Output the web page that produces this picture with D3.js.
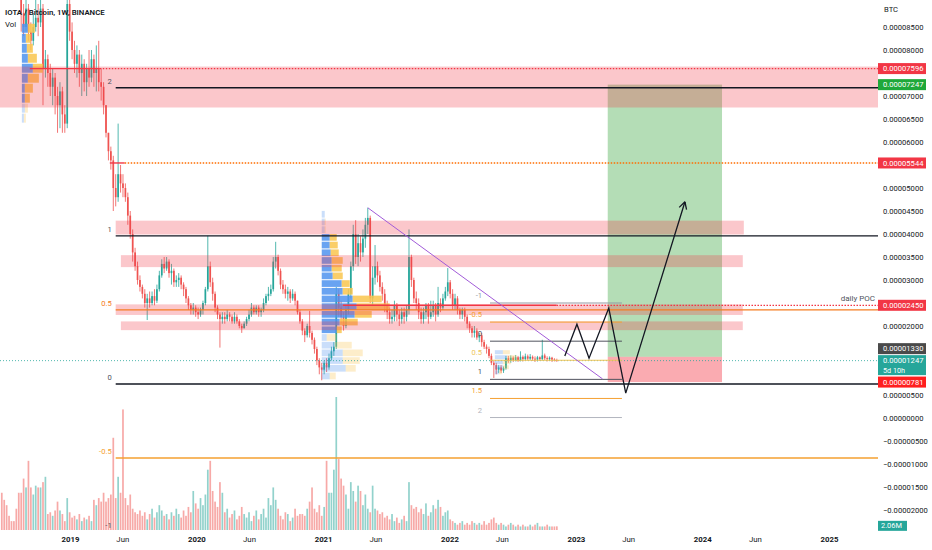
<!DOCTYPE html>
<html>
<head>
<meta charset="utf-8">
<script src="https://cdn.jsdelivr.net/npm/d3@7"></script>
<style>
    html, body { margin: 0; padding: 0; background: #fff; }
    svg { display: block; font-family: Roboto, "Liberation Sans", sans-serif; }
</style>
</head>
<body>
<svg id="chart" width="932" height="550"></svg>
<script>
(function () {
    'use strict';

    // weekly candles from 2018-06-18, prices in 1e-6 BTC
    // each row: [close, high, low, volume (M)]
    var firstOpen = 158;
    var weeks2018 = [
        [150,165,140,21],[140,152,136,17],[130,142,126,14],[118,131,115,8],
        [112,120,108,5],[105,114,101,5],[98,107,95,12],[93,100,91.5,21],
        [88,91,84,21],[85,90,83,29],[89,93,84,24],[84,90,82,39],[82,86,80,24],
        [85,88,81,20],[87,92,84,25],[86,90,83,24],[89,93,85,24],[76,90,68,27],
        [78,80,74,30],[75,79,72,9],[72,77,70,10],[74,76,68,8],[70,75,66,11],
        [68,72,62,16],[71,73,63,11],[66,72,62,9],[64,68,62,5],[90,93,63,18]
    ];
    var weeks2019 = [
        [84,92,82,10],[80,86,78,7],[77,82,75,8],[79,81,74,6],[75,80,72,9],
        [77,79,70,5],[73,78,71,7],[76,77,70,6],[74,80,72,8],[78,80,73,5],
        [75,79,72,17],[76,81,71,14],[73,82,71,18],[72,76,69,16],[68,73,66,21],
        [62,68,61,16],[58,62,56,18],[56,59,54,20],[50,57,45,52],[48,53,46,18],
        [53,64,47,30],[51,55,49,21],[50,53,48,68],[48,51,47,18],[44,49,42,14],
        [40,45,39,20],[36,41,34,12],[33,37,32,10],[30,34,29,9],[28.5,31,27.5,11],
        [27,29,26,8],[25,28,24,10],[26,27,21.3,6],[25,27.5,24,9],[26.5,27.5,24.5,12],
        [25.5,28,24.5,7],[28,29,25,10],[31,32,27.5,14],[33.5,34.5,30.5,11],[32.5,35,31.5,8],
        [34,35,32,9],[31.5,34.5,30.5,6],[32,33.5,29,10],[29.5,32.5,28.5,8],[30,31,28.5,12],
        [30.5,31.5,28.5,9],[29,31,28,7],[28,29.5,26.5,11],[26,28.5,25,8],[24.5,26.5,23.5,13],
        [23.5,25,22.5,10],[24,25,22.5,22]
    ];
    var weeks2020 = [
        [23,24.5,22,15],[22.5,24,21.5,12],[23.5,24,22,18],[25,25.5,22.5,14],[28,28.5,24.5,20],
        [33,39.6,27.5,34],[29.5,34,28.5,39],[27,30.5,25.5,22],[24,27.5,23,16],[22.5,24.5,21.5,13],
        [21.5,23,15.3,27],[22,23,20.5,21],[21.5,23,20.5,10],[22.5,23.5,21,12],[22,23,21,7],
        [21,22.5,20.5,9],[22,23,20.5,11],[21,22.5,20.5,6],[20,21.5,19.5,8],[19.5,20.5,18.5,13],
        [20.5,21,19.5,9],[21.5,22,20,7],[22.5,23.5,21,10],[24,25,22,5],[23,24.5,22.5,8],
        [24,24.5,22.5,11],[23,24.5,22,6],[23.5,24,22,9],[25,26,23,12],[26.5,27,24.5,7],
        [27,28.5,25.5,18],[28,29,26.5,14],[34,35,27.5,24],[35,38.3,32.5,17],[32,35.5,31,12],
        [29,32.5,28,8],[28,30,27,6],[27,29,26,10],[27.5,28.5,25.5,9],[26,28,25,5],
        [27,28,25.5,7],[25.5,27.5,24.5,12],[23,25.5,22.5,8],[21,23.5,20.5,9],[19,21.5,18,9],
        [18,19.5,16.5,8],[20,20.5,17.5,12],[18.5,23.3,17.5,16],[17,19,16,24],[15,17.5,14,12],
        [12.5,15.5,11.5,10],[11,13,9.5,14]
    ];
    var weeks2021 = [
        [10.5,12,8.2,8],[12,12.5,9.5,13],[11,13,10,39],[13,14,10.5,21],[14.5,15.5,12.5,21],
        [15.5,16.5,13.5,34],[27,28.5,15,75],[24,28,22,40],[22,25.5,20.5,29],[20,23,19,25],
        [23.5,24.5,19.5,20],[27,28,22.5,12],[33,34,26,27],[40,42,32,22],[35,43,33.5,16],
        [38,40,33,25],[36,39.5,34,22],[39,41,35,14],[42,43.5,37,20],[43.5,45.7,40,12],
        [26,44,25,10],[30.5,33,24.5,25],[33,37.6,29,12],[31,34,29.5,11],[28.5,32,27.5,9],
        [27,29.5,25.5,10],[24.5,28,23,7],[23,25.5,21.5,8],[21.5,24,20.5,6],[22,23.5,20.5,9],
        [24.5,25.5,21,5],[22.5,25,21,7],[21.5,23.5,20,4],[23,24,20.5,6],[22,24,20.5,8],
        [23.5,24.5,21,5],[35,41,22.5,27],[30,35.5,28.5,14],[26,30.5,25,12],[25,27.5,23.5,13],
        [23,26,21.5,10],[21.5,24,20.5,12],[23,24,20.5,9],[24.5,25,21.5,15],[22,25,20.5,8],
        [23,25.5,21.5,10],[24.5,25.5,22,14],[22.5,25,21,12],[25,28.5,22,17],[24,26,23,13],
        [26,27,23.5,8],[27.5,28.5,25.5,10]
    ];
    var weeks2022 = [
        [29.5,32.6,26.5,11],[27,30,26,6],[24.5,28,23.5,5],[26,27,23.5,4],[23.5,26.5,22.5,3],
        [22.5,24,21.5,4],[23.5,24,21.5,5],[22,24,21,3],[20.5,22.5,19.5,4],[19.5,21,18.5,3],
        [18.5,20,17.5,5],[19,20,17.5,4],[17.5,19.5,17,3],[18,18.5,16.5,4],[16.5,18.5,15.5,3],
        [15.5,17,15,5],[15,16,14,3],[13.5,15.5,13,4],[12,14,11.5,6],[11.5,12.5,8.7,7],
        [10.5,12,9.5,4],[11,11.5,9.8,3],[10.3,11.5,9.8,4],[10.8,11.2,9.8,3],[13,13.5,10.5,2],
        [12.4,13.5,12,3],[13.1,13.6,12,4],[12.6,13.4,12.2,3],[13.2,13.7,12.3,2],[12.5,13.5,12.2,3],
        [13.3,14.5,12.3,2],[12.8,13.6,12.3,3],[13.4,14,12.6,2],[12.9,13.8,12.5,2],[13.3,13.9,12.6,3],
        [12.9,13.6,12.4,2],[12.7,13.4,12.2,3],[13.2,13.5,12.3,4],[12.8,13.4,12.4,2],[13.6,17,12.5,2],
        [13,14,12.6,2],[12.8,13.4,12.3,3],[13.1,13.4,12.4,2],[12.7,13.3,12.2,2],[12.6,13,12.3,2],
        [12.47,12.9,12.2,2.06]
    ];

    var priceTicks = [85,80,75,70,65,60,55,50,45,40,35,30,25,20,15,10,5,0,-5,-10,-15,-20];
    var timeTickDates = ['2019-01-01','2019-06-01','2020-01-01','2020-06-01','2021-01-01','2021-06-01',
        '2022-01-01','2022-06-01','2023-01-01','2023-06-01','2024-01-01','2024-06-01','2025-01-01'];
    var timeTickLabels = ['2019','Jun','2020','Jun','2021','Jun','2022','Jun','2023','Jun','2024','Jun','2025'];

    // volume profiles: rows from low price upwards
    var vp2018Ups   = [2,3,3,3,6,11,6,5,4,6];
    var vp2018Downs = [2,3,5,8,11,10,9,6,5,7];
    var vp2021Ups   = [8,24,21,21,13,5,15,18,33,35,31,21,20,11,10,10,9,8,8,3,3,3];
    var vp2021Downs = [6,10,17,20,17,10,5,18,17,33,29,10,8,10,10,11,8,8,7,1,1,0];
    var vp2022Ups   = [4,8,8,12,8];
    var vp2022Downs = [3,6,8,10,7];

    // drawings
    var zoneRows = [   // [from, to, top price, bottom price]
        [null, null, 76.4, 67.5],
        ['2019-05-13', '2024-04-30', 42.9, 39.9],
        ['2019-05-28', '2024-04-27', 35.4, 32.8],
        ['2019-05-13', '2024-04-27', 24.7, 22.4],
        ['2019-05-28', '2024-04-27', 21.0, 19.1]
    ];
    var bigFibLevels = [2, 1, 0.5, 0, -0.5, -1];
    var bigFibColors = ['#131722', '#131722', '#f57c20', '#131722', '#f5a030', '#131722'];
    var bigFibPrices = [7.4, 39.6];          // level 0, level 1
    var smallFibLevels = [-1, -0.5, 0, 0.5, 1, 1.5, 2];
    var smallFibColors = ['#9598a1', '#f5a030', '#50535e', '#eec55a', '#50535e', '#f5a030', '#b2b5be'];
    var smallFibPrices = [16.7, 8.4];
    var trendPoints = [['2021-05-10', 45.7], ['2023-03-19', 8.5]];
    var pathPoints = [['2022-11-30', 13.5], ['2023-01-04', 20.4], ['2023-02-08', 13.0],
        ['2023-04-06', 23.9], ['2023-05-25', 5.4], ['2023-11-12', 47.0]];
    var longDates = ['2023-04-03', '2024-02-27'];
    var longPrices = [72.47, 13.30, 7.81];   // target, entry, stop
    var currentPrice = 12.47;

    var W = 932, plotR = 878, plotB = 531;
    var upColor = '#26a69a', downColor = '#ef5350';

    function day(s) { return new Date(s + 'T00:00:00Z'); }

    var svg = d3.select('#chart');

    var x = d3.scaleUtc()
        .domain([day('2019-01-01'), day('2025-01-01')])
        .range([70, 829]);
    var y = d3.scaleLinear().domain([0, 85]).range([418, 27]);
    var yVol = d3.scaleLinear().domain([0, 75]).range([530, 397]);

    var leftDate = x.invert(0), rightDate = x.invert(plotR);

    // candles
    var rows = weeks2018.concat(weeks2019, weeks2020, weeks2021, weeks2022);
    var start = day('2018-06-18');
    var prevClose = firstOpen;
    var candles = rows.map(function (r, i) {
        var c = {
            date: d3.utcDay.offset(start, i * 7),
            open: prevClose, close: r[0], high: r[1], low: r[2], vol: r[3]
        };
        c.up = c.close >= c.open;
        prevClose = r[0];
        return c;
    });

    svg.append('rect').attr('width', W).attr('height', 550).attr('fill', '#fff');

    svg.append('clipPath').attr('id', 'plot-clip')
        .append('rect').attr('x', 0).attr('y', 0).attr('width', plotR).attr('height', plotB);

    var plot = svg.append('g').attr('clip-path', 'url(#plot-clip)');

    // long position box
    var lx0 = x(day(longDates[0])), lx1 = x(day(longDates[1]));
    plot.append('rect')
        .attr('x', lx0).attr('width', lx1 - lx0)
        .attr('y', y(longPrices[0])).attr('height', y(longPrices[1]) - y(longPrices[0]))
        .attr('fill', 'rgba(76,175,80,0.42)');
    plot.append('rect')
        .attr('x', lx0).attr('width', lx1 - lx0)
        .attr('y', y(longPrices[1])).attr('height', y(longPrices[2]) - y(longPrices[1]))
        .attr('fill', 'rgba(242,54,69,0.42)');

    // volume bars
    var bw = 1.7;
    plot.append('g').selectAll('rect')
        .data(candles)
        .join('rect')
        .attr('x', function (d) { return x(d.date) - bw / 2; })
        .attr('width', bw)
        .attr('y', function (d) { return yVol(d.vol); })
        .attr('height', function (d) { return yVol(0) - yVol(d.vol); })
        .attr('fill', function (d) { return d.up ? 'rgba(38,166,154,0.5)' : 'rgba(239,83,80,0.5)'; });

    // candles
    var gC = plot.append('g');
    gC.selectAll('line')
        .data(candles)
        .join('line')
        .attr('x1', function (d) { return x(d.date); })
        .attr('x2', function (d) { return x(d.date); })
        .attr('y1', function (d) { return y(d.high); })
        .attr('y2', function (d) { return y(d.low); })
        .attr('stroke', function (d) { return d.up ? upColor : downColor; })
        .attr('stroke-width', 0.8);
    gC.selectAll('rect')
        .data(candles)
        .join('rect')
        .attr('x', function (d) { return x(d.date) - bw / 2; })
        .attr('width', bw)
        .attr('y', function (d) { return y(Math.max(d.open, d.close)); })
        .attr('height', function (d) { return Math.max(0.8, Math.abs(y(d.open) - y(d.close))); })
        .attr('fill', function (d) { return d.up ? upColor : downColor; });

    // volume profiles
    function drawProfile(anchor, low, step, ups, downs, vaFrom, vaTo, maxPx, fadeAll) {
        var w = d3.scaleLinear()
            .domain([0, d3.max(ups, function (u, i) { return u + downs[i]; })])
            .range([0, maxPx]);
        var x0 = x(day(anchor));
        var g = plot.append('g');
        ups.forEach(function (u, k) {
            var top = y(low + (k + 1) * step), h = y(low + k * step) - top - 1;
            var inVa = !fadeAll && k >= vaFrom && k <= vaTo;
            var op = inVa ? 0.85 : 0.3;
            g.append('rect').attr('x', x0).attr('y', top + 0.5).attr('width', w(u)).attr('height', h)
                .attr('fill', '#4f93ee').attr('opacity', op);
            g.append('rect').attr('x', x0 + w(u)).attr('y', top + 0.5).attr('width', w(downs[k])).attr('height', h)
                .attr('fill', '#f9c54e').attr('opacity', op);
        });
    }
    drawProfile('2018-08-15', 64.1, 2.17, vp2018Ups, vp2018Downs, 2, 9, 21, false);
    drawProfile('2020-12-28', 8.3, 1.674, vp2021Ups, vp2021Downs, 6, 18, 68, false);
    drawProfile('2022-05-12', 9.4, 1.09, vp2022Ups, vp2022Downs, 0, 0, 22, true);

    // zones
    plot.append('g').selectAll('rect')
        .data(zoneRows)
        .join('rect')
        .attr('x', function (d) { return x(d[0] ? day(d[0]) : leftDate); })
        .attr('width', function (d) { return x(d[1] ? day(d[1]) : rightDate) - x(d[0] ? day(d[0]) : leftDate); })
        .attr('y', function (d) { return y(d[2]); })
        .attr('height', function (d) { return y(d[3]) - y(d[2]); })
        .attr('fill', 'rgba(242,54,69,0.28)');

    // horizontal level lines
    function hline(from, to, price, color, dash, width) {
        plot.append('line')
            .attr('x1', x(from)).attr('x2', x(to))
            .attr('y1', y(price)).attr('y2', y(price))
            .attr('stroke', color).attr('stroke-width', width || 1.2)
            .attr('stroke-dasharray', dash || null);
    }
    hline(day('2018-09-07'), day('2019-03-28'), 75.96, '#f23645', null, 1.4);
    hline(day('2019-03-28'), rightDate, 75.96, '#f23645', '1.5,1.5');
    hline(day('2019-04-26'), day('2019-06-08'), 55.44, '#f23645', null, 1.4);
    hline(day('2019-06-08'), rightDate, 55.44, '#ff6d00', '1.5,1.5', 1.4);
    hline(day('2021-02-27'), day('2022-11-06'), 24.5, '#f23645', null, 1.4);
    hline(day('2022-11-06'), rightDate, 24.5, '#f23645', '1.5,1.5');
    hline(leftDate, rightDate, currentPrice, '#26a69a', '1,2', 0.8);

    // big fib
    var fibStart = day('2019-05-13');
    bigFibLevels.forEach(function (lv, i) {
        var p = bigFibPrices[0] + lv * (bigFibPrices[1] - bigFibPrices[0]);
        hline(fibStart, rightDate, p, bigFibColors[i], null, 1.4);
        plot.append('text')
            .attr('x', x(fibStart) - 4).attr('y', y(p) - 4)
            .attr('text-anchor', 'end').attr('font-size', 7.6)
            .attr('fill', bigFibColors[i] === '#131722' ? '#50535e' : bigFibColors[i])
            .text(lv);
    });

    // small fib
    var sf0 = day('2022-04-28'), sf1 = day('2023-05-14');
    smallFibLevels.forEach(function (lv, i) {
        var p = smallFibPrices[0] + lv * (smallFibPrices[1] - smallFibPrices[0]);
        hline(sf0, sf1, p, smallFibColors[i], null, 1);
        plot.append('text')
            .attr('x', x(sf0) - 8).attr('y', y(p) - 5)
            .attr('text-anchor', 'end').attr('font-size', 7.6)
            .attr('fill', smallFibColors[i])
            .text(lv);
    });

    // descending trendline
    plot.append('line')
        .attr('x1', x(day(trendPoints[0][0]))).attr('y1', y(trendPoints[0][1]))
        .attr('x2', x(day(trendPoints[1][0]))).attr('y2', y(trendPoints[1][1]))
        .attr('stroke', '#a15bd8').attr('stroke-width', 1);

    // projected path with arrow
    var line = d3.line()
        .x(function (d) { return x(day(d[0])); })
        .y(function (d) { return y(d[1]); });
    plot.append('path').datum(pathPoints)
        .attr('d', line).attr('fill', 'none')
        .attr('stroke', '#131722').attr('stroke-width', 1.3);
    var pa = pathPoints[pathPoints.length - 2], pb = pathPoints[pathPoints.length - 1];
    var ax = x(day(pb[0])), ay = y(pb[1]);
    var ang = Math.atan2(ay - y(pa[1]), ax - x(day(pa[0])));
    [-0.5, 0.5].forEach(function (o) {
        plot.append('line')
            .attr('x1', ax).attr('y1', ay)
            .attr('x2', ax - 8 * Math.cos(ang + o)).attr('y2', ay - 8 * Math.sin(ang + o))
            .attr('stroke', '#131722').attr('stroke-width', 1.3);
    });

    plot.append('text')
        .attr('x', 875).attr('y', y(24.5) - 4)
        .attr('text-anchor', 'end').attr('font-size', 8)
        .attr('fill', '#50535e')
        .text('daily POC');

    // header
    svg.append('text').attr('x', 5).attr('y', 15)
        .attr('font-size', 7.8).attr('font-weight', 600).attr('fill', '#131722')
        .text('IOTA / Bitcoin, 1W, BINANCE');
    svg.append('text').attr('x', 5).attr('y', 27)
        .attr('font-size', 7.8).attr('fill', '#131722')
        .text('Vol');

    // price labels on the scale
    var fmtPrice = function (v) {
        return (v < 0 ? '\u2212' : '') + (Math.abs(v) * 1e-6).toFixed(8);
    };
    var labels = [
        { v: 75.96, c: '#f23645' }, { v: 72.47, c: '#1fa83a' }, { v: 55.44, c: '#f23645' },
        { v: 24.50, c: '#f23645' }, { v: 13.30, c: '#4a4a4a' },
        { v: currentPrice, c: '#26a69a', sub: '5d 10h' }, { v: 7.81, c: '#ff1f1f' }
    ];
    labels.forEach(function (l) {
        l.h = l.sub ? 20 : 11;
        l.top = y(l.v) - 5.5;
    });
    var ci = labels.findIndex(function (l) { return l.sub; });
    for (var i = ci - 1; i >= 0; i--) {
        if (labels[i].top + labels[i].h > labels[i + 1].top - 1) {
            labels[i].top = labels[i + 1].top - 1 - labels[i].h;
        }
    }
    for (var j = ci + 1; j < labels.length; j++) {
        if (labels[j].top < labels[j - 1].top + labels[j - 1].h) {
            labels[j].top = labels[j - 1].top + labels[j - 1].h;
        }
    }

    // price axis, ticks hidden behind a label are left out
    var shownTicks = priceTicks.filter(function (t) {
        var ty = y(t);
        return !labels.some(function (l) { return ty > l.top - 4 && ty < l.top + l.h + 4; });
    });
    var yAxis = d3.axisRight(y).tickValues(shownTicks).tickFormat(fmtPrice).tickSize(0).tickPadding(0);
    var gy = svg.append('g').attr('transform', 'translate(883,0)').call(yAxis);
    gy.select('.domain').remove();
    gy.selectAll('text')
        .attr('font-size', 7.6).attr('fill', '#131722')
        .attr('font-family', 'Roboto, "Liberation Sans", sans-serif');
    svg.append('text').attr('x', 884).attr('y', 12)
        .attr('font-size', 7.6).attr('fill', '#131722').text('BTC');

    var gl = svg.append('g');
    labels.forEach(function (l) {
        gl.append('rect').attr('x', 878).attr('y', l.top).attr('width', 48).attr('height', l.h)
            .attr('fill', l.c);
        gl.append('text').attr('x', 883).attr('y', l.top + 8.2)
            .attr('font-size', 7.6).attr('fill', '#fff').text(fmtPrice(l.v));
        if (l.sub) {
            gl.append('text').attr('x', 883).attr('y', l.top + 17.5)
                .attr('font-size', 7.2).attr('fill', '#fff').text(l.sub);
        }
    });
    var lastVol = candles[candles.length - 1].vol;
    var vTop = Math.min(yVol(lastVol) - 5.5, plotB - 10);
    gl.append('rect').attr('x', 878).attr('y', vTop).attr('width', 29).attr('height', 10)
        .attr('fill', upColor);
    gl.append('text').attr('x', 881).attr('y', vTop + 7.6)
        .attr('font-size', 7.4).attr('fill', '#fff').text(lastVol.toFixed(2) + 'M');

    // time axis
    var xAxis = d3.axisBottom(x)
        .tickValues(timeTickDates.map(day))
        .tickFormat(function (d, i) { return timeTickLabels[i]; })
        .tickSize(0).tickPadding(0);
    var gx = svg.append('g').attr('transform', 'translate(0,536)').call(xAxis);
    gx.select('.domain').remove();
    gx.selectAll('text')
        .attr('font-size', 7.8).attr('fill', '#131722')
        .attr('font-family', 'Roboto, "Liberation Sans", sans-serif')
        .attr('font-weight', function (d, i) { return timeTickLabels[i] === 'Jun' ? 400 : 700; });
}());
</script>
</body>
</html>
